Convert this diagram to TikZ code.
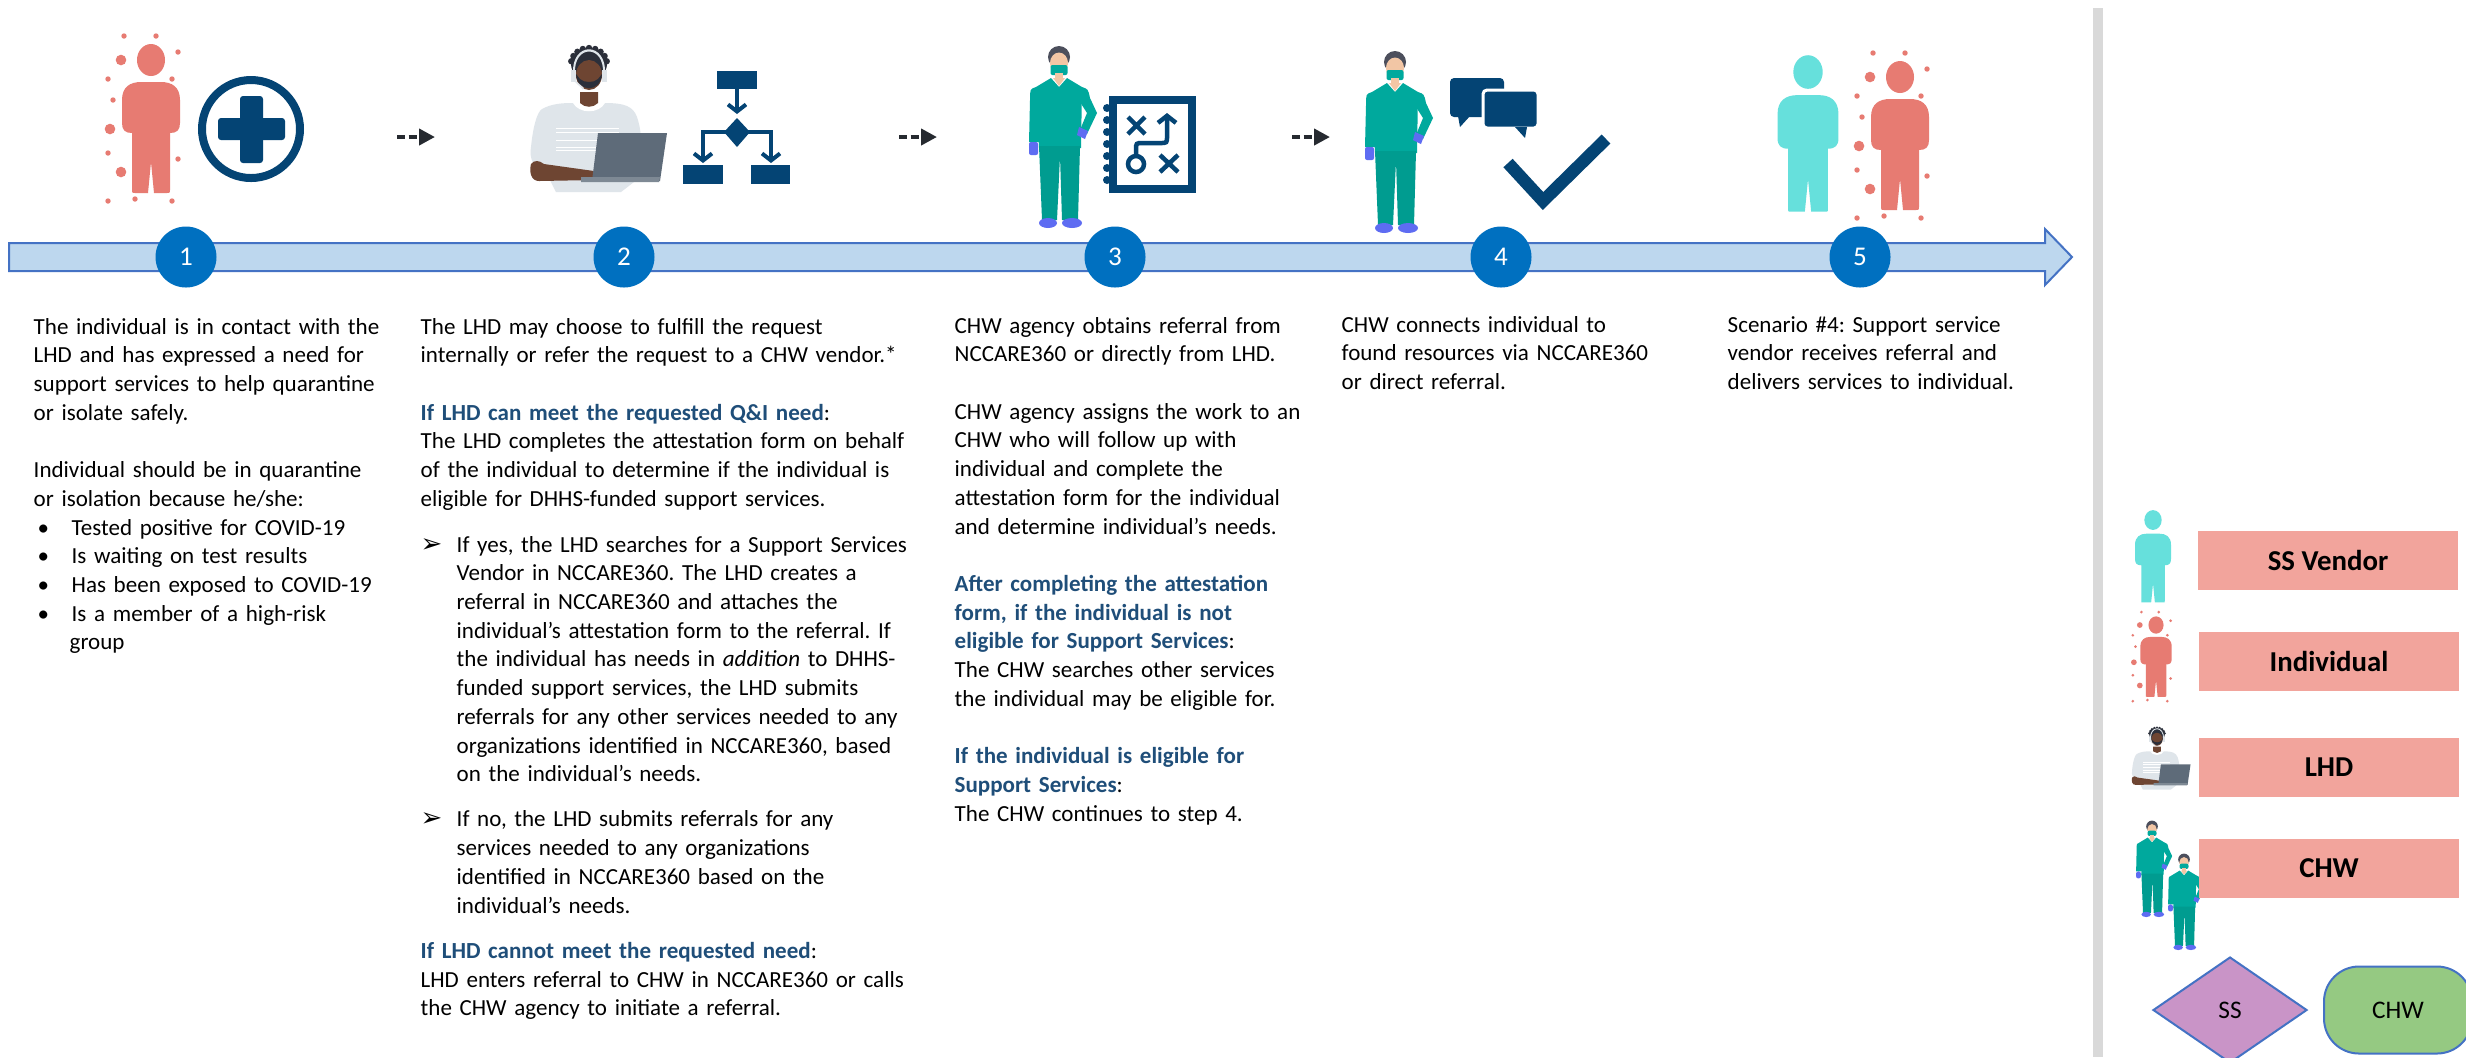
\documentclass[tikz,border=0pt]{standalone}
\usepackage{fontspec}
\setmainfont{Carlito}
\newfontfamily\symbolfont{DejaVu Sans}
\usetikzlibrary{arrows.meta,positioning,shapes.geometric}

\definecolor{navy}{HTML}{044474}
\definecolor{stepblue}{HTML}{0070C0}
\definecolor{bandfill}{HTML}{BDD7EE}
\definecolor{bandline}{HTML}{4472C4}
\definecolor{headblue}{HTML}{1F4E79}
\definecolor{salmon}{HTML}{E77B72}
\definecolor{aqua}{HTML}{66E0DC}
\definecolor{roleback}{HTML}{F2A49C}
\definecolor{scrubs}{HTML}{00A99D}
\definecolor{glove}{HTML}{5E6CF2}
\definecolor{hair}{HTML}{4C4F5C}
\definecolor{skin}{HTML}{F2C6A5}
\definecolor{darkskin}{HTML}{6E4532}
\definecolor{curls}{HTML}{2B2F3A}
\definecolor{sweater}{HTML}{DFE5EA}
\definecolor{laptop}{HTML}{5E6B79}
\definecolor{ssfill}{HTML}{C994C7}
\definecolor{chwfill}{HTML}{95C982}
\definecolor{divider}{HTML}{D9D9D9}
\definecolor{arrowgray}{HTML}{262A30}

\newcommand{\hd}[1]{\textbf{\color{headblue}#1}}
\newcommand{\bulletitem}{\hspace*{0.4mm}\makebox[3.4mm][l]{•}}
\newcommand{\arrowitem}{\makebox[3.6mm][l]{{\symbolfont\fontsize{7.4pt}{8pt}\selectfont ➢}}}
\newcommand{\subline}{\hspace*{3.6mm}}

% standing figure, origin at the centre of the head, filled in the current colour
\newcommand{\figurebody}{%
  \fill (0,0) ellipse (14 and 16);
  \fill (-29,40) .. controls (-29,27) and (-21,22) .. (-10,22) -- (10,22)
    .. controls (21,22) and (29,27) .. (29,40) -- (29,63)
    .. controls (29,70) and (26,73) .. (19,73) -- (-19,73)
    .. controls (-26,73) and (-29,70) .. (-29,63) -- cycle;
  \fill (-19,70) -- (19,70) -- (19,130) .. controls (19,133) .. (16,133) -- (3,133)
    -- (0,102) -- (-3,133) -- (-16,133) .. controls (-19,133) .. (-19,130) -- cycle;
}

\tikzset{
  txt/.style={anchor=base west, inner sep=0pt, text width=#1, align=left,
    font=\fontsize{6.55pt}{8.17pt}\selectfont\frenchspacing},
  stepdot/.style={circle, fill=stepblue, text=white, minimum size=6.1mm, inner sep=0pt,
    font=\fontsize{7.7pt}{9pt}\selectfont},
  role/.style={fill=roleback, minimum width=26mm, minimum height=5.9mm, inner sep=0pt,
    font=\bfseries\fontsize{8.2pt}{10pt}\selectfont},
  keyshape/.style={draw=bandline, line width=0.2mm, inner sep=0pt,
    font=\fontsize{7.2pt}{9pt}\selectfont},
  flow/.style={arrowgray, line width=0.4mm, dash pattern=on 0.83mm off 0.33mm,
    -{Triangle[length=1.6mm,width=1.6mm]}},
  icon/.style={navy, line width=0.4mm},
  barb/.style={icon, -{Straight Barb[length=0.7mm,width=1.8mm]}},
  figure/.pic={\figurebody},
  individual/.pic={
    \begin{scope}[salmon]
      \figurebody
      \foreach \dx/\dy/\rad in {-27/-24/2.7, 5/-24/2.7, 27/-8/2.7, -30/0/5.3, -43/19/2.7,
          21/19/2.7, -38/40/2.7, -41/69/5.3, -43/93/2.7, 27/99/2.7, -30/112/5.3,
          -43/141/2.7, -16/139/2.7, 21/141/2.7}
        \fill (\dx,\dy) circle (\rad);
    \end{scope}
  },
  nurse/.pic={
    \fill[hair] (0,-3) ellipse (11 and 11);
    \fill[skin] (0,3) ellipse (9 and 10.5);
    \fill[scrubs, rounded corners=0.2mm] (-8.5,5) rectangle (8.5,15);
    \fill[skin] (-4,13) rectangle (4,21);
    \fill[scrubs] (-23,27) .. controls (-16,22) .. (-8,18) -- (0,27) -- (8,18)
      .. controls (16,22) .. (23,27) -- (22,88) -- (-20,88) -- cycle;
    \fill[skin] (-6,18) -- (6,18) -- (0,26) -- cycle;
    \fill[scrubs] (-23,27) .. controls (-29,29) .. (-29,40) -- (-30,82) -- (-20,82) -- (-19,42) -- cycle;
    \fill[scrubs] (23,27) .. controls (29,29) .. (31,38) -- (38,53) -- (28,74) -- (21,70)
      -- (28,53) -- (21,42) -- cycle;
    \fill[scrubs!92!black] (-20,86) -- (21,86) -- (19,160) -- (3,160) -- (1,96) -- (-2,160)
      -- (-17,160) -- cycle;
    \fill[glove, rounded corners=0.2mm] (-30,82) rectangle (-21,95);
    \fill[glove] (20,67) -- (29,71) -- (26,79) -- (18,75) -- cycle;
    \fill[glove] (-11,163) ellipse (9 and 5);
    \fill[glove] (13,163) ellipse (10 and 5);
  },
  agent/.pic={
    \fill[sweater] (-17,31) -- (16,31) .. controls (35,31) and (44,34) .. (48,45)
      .. controls (54,62) and (54,90) .. (45,110) -- (32,120) -- (-33,120) -- (-42,102)
      .. controls (-56,97) and (-60,86) .. (-58,75) .. controls (-56,55) and (-52,40) .. (-47,37)
      .. controls (-38,32) and (-28,31) .. (-17,31) -- cycle;
    \foreach \yy in {56,60,68,75,78}
      \fill[white] (-33,\yy) rectangle (30,\yy+1.3);
    \fill[white] (-16,31) .. controls (-10,42) and (10,42) .. (16,31) -- cycle;
    \fill[darkskin] (-9,20) -- (9,20) -- (9,31) .. controls (4,36) and (-4,36) .. (-9,31) -- cycle;
    \fill[curls] (0,-8) ellipse (18 and 16);
    \foreach \a in {10,30,...,170}
      \fill[curls] ({18*cos(\a)},{-8-16*sin(\a)}) circle (3.2);
    \fill[darkskin] (0,3) ellipse (13 and 15);
    \fill[curls] (-13,2) .. controls (-12,21) and (12,21) .. (13,2) -- (9,7)
      .. controls (5,11) and (-5,11) .. (-9,7) -- cycle;
    % headset
    \fill[sweater] (-16,2) .. controls (-18,-31) and (18,-31) .. (16,2) -- (14,2)
      .. controls (16,-28) and (-16,-28) .. (-14,2) -- cycle;
    \fill[sweater] (-18,-2) rectangle (-13,10);
    \fill[sweater] (13,-2) rectangle (18,10);
    \fill[sweater] (-15,9) -- (-13,9) -- (-5,16) -- (-6,17.5) -- cycle;
    \fill[darkskin] (-58,92) .. controls (-55,88) and (-50,88) .. (-45,92) -- (5,99) -- (5,108)
      -- (-50,109) .. controls (-58,109) and (-60,100) .. (-58,92) -- cycle;
    \fill[laptop] (9,61) -- (78,61) -- (71,109) -- (3,109) -- cycle;
    \fill[laptop!80!white] (-8,105) -- (71,105) -- (70,110) -- (-8,110) -- cycle;
  },
}

\begin{document}
\begin{tikzpicture}[x=0.1mm, y=-0.1mm]
\fill[white] (0,0) rectangle (2466,1057);
\useasboundingbox (0,0) rectangle (2466,1057);

% timeline
\draw[fill=bandfill, draw=bandline, line width=0.2mm] (9,243) -- (2045,243) -- (2045,229)
  -- (2072,257) -- (2045,285) -- (2045,271) -- (9,271) -- cycle;
\node[stepdot] (s1) at (186,257) {1};
\node[stepdot] (s2) at (624,257) {2};
\node[stepdot] (s3) at (1115,257) {3};
\node[stepdot] (s4) at (1501,257) {4};
\node[stepdot] (s5) at (1860,257) {5};

% step 1: individual and plus sign
\pic at (151,60) {individual};
\draw[navy, line width=0.8mm] (251,129) circle (49);
\fill[navy, rounded corners=0.3mm] (240,96) rectangle (263,163);
\fill[navy, rounded corners=0.3mm] (218,118) rectangle (285,140);

% step 2: LHD and flow chart
\pic at (589,72) {agent};
\fill[navy] (717,71) rectangle (757,89);
\draw[barb] (737,89) -- (737,114);
\fill[navy] (737,118) -- (750,132) -- (737,147) -- (724,132) -- cycle;
\draw[barb] (737,132) -| (703,163);
\draw[barb] (737,132) -| (771,163);
\fill[navy] (683,165) rectangle (723,184);
\fill[navy] (751,165) rectangle (790,184);

% step 3: CHW and play book
\pic at (1059,60) {nurse};
\draw[navy, line width=0.75mm] (1113,100) rectangle (1192,189);
\foreach \yy in {108,120,...,180}
  \fill[navy] (1107,\yy) circle (4);
\draw[icon, line width=0.45mm] (1128,117) -- (1145,134) (1145,117) -- (1128,134)
  (1160,155) -- (1178,172) (1178,155) -- (1160,172) (1136,164) circle (8);
\draw[barb, line width=0.45mm] (1136,155) -- (1136,150) .. controls (1136,143) .. (1143,143)
  -- (1160,143) .. controls (1167,143) .. (1167,136) -- (1167,113);

% step 4: CHW, speech bubbles and check mark
\pic at (1395,65) {nurse};
\fill[navy, rounded corners=0.4mm] (1450,78) rectangle (1504,117);
\fill[navy] (1458,116) -- (1460,127) -- (1470,116) -- cycle;
\filldraw[navy, draw=white, line width=0.3mm, rounded corners=0.4mm] (1483,90) rectangle (1538,128);
\fill[navy] (1515,127) -- (1525,138) -- (1527,127) -- cycle;
\draw[navy, line width=1.25mm] (1508,163) -- (1543,201) -- (1606,139);

% step 5: vendor and individual
\pic[aqua, scale=1.05] at (1808,72) {figure};
\pic at (1900,77) {individual};

% dashed arrows between the steps
\coordinate (go1) at (397,137);  \coordinate (to1) at (435,137);
\coordinate (go2) at (899,137);  \coordinate (to2) at (937,137);
\coordinate (go3) at (1292,137); \coordinate (to3) at (1330,137);
\draw[flow] (go1) -- (to1);
\draw[flow] (go2) -- (to2);
\draw[flow] (go3) -- (to3);

% step texts
\node[txt=38mm] (txt1) at (33,334) {The individual is in contact with the\\
LHD and has expressed a need for\\
support services to help quarantine\\
or isolate safely.\\[\baselineskip]
Individual should be in quarantine\\
or isolation because he/she:\\
\bulletitem Tested positive for COVID-19\\
\bulletitem Is waiting on test results\\
\bulletitem Has been exposed to COVID-19\\
\bulletitem Is a member of a high-risk\\
\subline group};

\node[txt=52mm] (txt2) at (420,334) {The LHD may choose to fulfill the request\\
internally or refer the request to a CHW vendor.*\\[\baselineskip]
\hd{If LHD can meet the requested Q\&I need}:\\
The LHD completes the attestation form on behalf\\
of the individual to determine if the individual is\\
eligible for DHHS-funded support services.\\[1.7mm]
\arrowitem If yes, the LHD searches for a Support Services\\
\subline Vendor in NCCARE360. The LHD creates a\\
\subline referral in NCCARE360 and attaches the\\
\subline individual’s attestation form to the referral. If\\
\subline the individual has needs in \textit{addition} to DHHS-\\
\subline funded support services, the LHD submits\\
\subline referrals for any other services needed to any\\
\subline organizations identified in NCCARE360, based\\
\subline on the individual’s needs.\\[1.65mm]
\arrowitem If no, the LHD submits referrals for any\\
\subline services needed to any organizations\\
\subline identified in NCCARE360 based on the\\
\subline individual’s needs.\\[1.65mm]
\hd{If LHD cannot meet the requested need}:\\
LHD enters referral to CHW in NCCARE360 or calls\\
the CHW agency to initiate a referral.};

\node[txt=38mm] (txt3) at (954,333) {CHW agency obtains referral from\\
NCCARE360 or directly from LHD.\\[\baselineskip]
CHW agency assigns the work to an\\
CHW who will follow up with\\
individual and complete the\\
attestation form for the individual\\
and determine individual’s needs.\\[\baselineskip]
\hd{After completing the attestation}\\
\hd{form, if the individual is not}\\
\hd{eligible for Support Services}:\\
The CHW searches other services\\
the individual may be eligible for.\\[\baselineskip]
\hd{If the individual is eligible for}\\
\hd{Support Services}:\\
The CHW continues to step 4.};

\node[txt=36mm] (txt4) at (1341,332) {CHW connects individual to\\
found resources via NCCARE360\\
or direct referral.};

\node[txt=36mm] (txt5) at (1727,332) {Scenario \#4: Support service\\
vendor receives referral and\\
delivers services to individual.};

% legend
\draw[divider, line width=1mm] (2098,8) -- (2098,1057);
\pic[aqua, scale=0.62] at (2153,520) {figure};
\pic[scale=0.54] at (2156,625) {individual};
\pic[scale=0.43] at (2157,738) {agent};
\pic[scale=0.53] at (2152,828) {nurse};
\pic[scale=0.53] at (2184,861) {nurse};
\node[role] (rvendor) at (2328,560) {SS Vendor};
\node[role] (rindiv) at (2329,661) {Individual};
\node[role] (rlhd) at (2329,767) {LHD};
\node[role] (rchw) at (2329,868) {CHW};
\node[keyshape, diamond, fill=ssfill, minimum width=15.4mm, minimum height=10.6mm] (ss) at (2230,1010) {SS};
\node[keyshape, fill=chwfill, rounded corners=3.5mm, minimum width=14.8mm, minimum height=8.7mm,
  right=1.5mm of ss] (chw) {CHW};
\end{tikzpicture}
\end{document}
